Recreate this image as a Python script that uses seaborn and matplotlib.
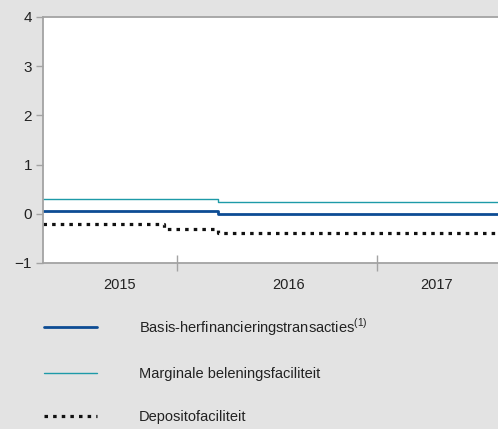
import pandas as pd
import matplotlib
matplotlib.use("Agg")
import matplotlib.pyplot as plt
import matplotlib.dates as mdates
import seaborn as sns

# step dates (value holds until the next date)
dates = ["2015-05-01", "2015-12-09", "2016-03-16", "2017-08-10"]
mro = [0.05, 0.05, 0.00, 0.00]
mlf = [0.30, 0.30, 0.25, 0.25]
dep = [-0.20, -0.30, -0.40, -0.40]

labels = [
    r"Basis-herfinancieringstransacties$^{\rm (1)}$",
    "Marginale beleningsfaciliteit",
    "Depositofaciliteit",
]
year_labels = ["2015", "2016", "2017"]
year_label_pos = ["2015-09-18", "2016-07-23", "2017-04-20"]
year_bounds = ["2016-01-01", "2017-01-01"]
y_ticks = [-1, 0, 1, 2, 3, 4]

BG = "#e3e3e3"
SPINE = "#a3a3a3"

sns.set_style("white")
plt.rcParams["font.family"] = ["Liberation Sans", "DejaVu Sans"]
plt.rcParams["mathtext.fontset"] = "custom"
plt.rcParams["mathtext.rm"] = "Liberation Sans"

df = pd.DataFrame({"date": pd.to_datetime(dates), "mro": mro, "mlf": mlf, "dep": dep})

fig = plt.figure(figsize=(4.98, 4.29), dpi=100, facecolor=BG)
ax = fig.add_axes([43 / 498, 1 - 263 / 429, 1 - 43 / 498, (263 - 17) / 429])
ax.set_facecolor("white")

sns.lineplot(data=df, x="date", y="dep", ax=ax, color="#111111", lw=2.3,
             linestyle=(0, (1.1, 1.6)), drawstyle="steps-post", label=labels[2])
sns.lineplot(data=df, x="date", y="mlf", ax=ax, color="#1d9aa8", lw=1.0,
             drawstyle="steps-post", label=labels[1])
sns.lineplot(data=df, x="date", y="mro", ax=ax, color="#0d4c94", lw=2.0,
             drawstyle="steps-post", label=labels[0])

ax.set_xlim(df["date"].min(), df["date"].max())
ax.set_ylim(-1, 4)
ax.set_yticks(y_ticks)
ax.set_yticklabels(["\u22121", "0", "1", "2", "3", "4"])
ax.set_xlabel("")
ax.set_ylabel("")

ax.set_xticks(mdates.date2num(pd.to_datetime(year_label_pos)))
ax.set_xticklabels(year_labels)
ax.set_xticks(mdates.date2num(pd.to_datetime(year_bounds)), minor=True)
ax.tick_params(axis="x", which="major", bottom=True, length=0, pad=11,
               labelsize=10.5, labelcolor="#222222")
ax.tick_params(axis="x", which="minor", bottom=True, direction="inout",
               length=11, width=1.0, color=SPINE)
ax.tick_params(axis="y", which="major", left=True, direction="out", length=5,
               width=1.0, color=SPINE, labelsize=11, labelcolor="#222222", pad=3)

for side in ["left", "top", "bottom"]:
    ax.spines[side].set_color(SPINE)
    ax.spines[side].set_linewidth(1.3)
ax.spines["right"].set_visible(False)

handles, labs = ax.get_legend_handles_labels()
order = [2, 1, 0]
ax.legend([handles[i] for i in order], [labs[i] for i in order],
          loc="upper left", bbox_to_anchor=(44 / 498, 1 - 316 / 429),
          bbox_transform=fig.transFigure, frameon=False, fontsize=10.5,
          handlelength=3.6, handletextpad=2.9, labelspacing=2.0,
          borderpad=0, borderaxespad=0, labelcolor="#222222")

fig.savefig("out.png", dpi=100, facecolor=BG)
